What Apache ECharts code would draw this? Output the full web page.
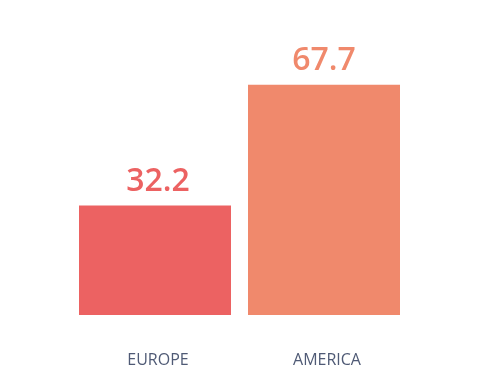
<!DOCTYPE html>
<html><head><meta charset="utf-8">
<script src="https://cdn.jsdelivr.net/npm/echarts@6/dist/echarts.min.js"></script>
<style>html,body{margin:0;padding:0;background:#fff}#c{width:500px;height:375px}</style>
</head><body><div id="c"></div>
<script>
var categories = ['EUROPE', 'AMERICA'];
var values = [32.2, 67.7];
var barColors = ['#ec6262', '#f0896c'];

var chart = echarts.init(document.getElementById('c'), null, {renderer: 'canvas'});
chart.setOption({
  animation: false,
  backgroundColor: '#ffffff',
  grid: {left: 70.5, right: 91.5, top: 43, bottom: 60},
  xAxis: {
    type: 'category', data: categories,
    axisLine: {show: false}, axisTick: {show: false},
    axisLabel: {margin: 37, fontFamily: 'Open Sans', fontSize: 16, color: '#4f5a75',
      padding: [0, 0, 0, 6]}
  },
  yAxis: {type: 'value', min: 0, max: 80, show: false, splitLine: {show: false}},
  series: [{
    type: 'bar', barWidth: 152,
    data: values.map(function (v, i) {
      return {value: v, itemStyle: {color: barColors[i]},
        label: {color: barColors[i], offset: [i === 0 ? 3 : 0, 0]}};
    }),
    label: {show: true, position: 'top', distance: 8,
      fontFamily: 'Open Sans', fontWeight: 600, fontSize: 32}
  }]
});
</script></body></html>
